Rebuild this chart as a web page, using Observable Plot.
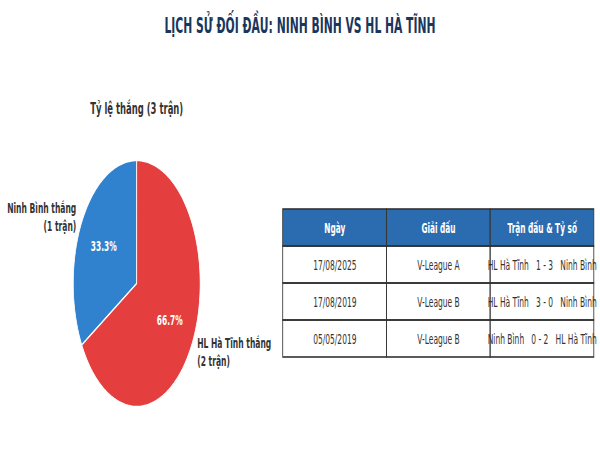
<!DOCTYPE html>
<html><head><meta charset="utf-8">
<script src="https://cdn.jsdelivr.net/npm/d3@7"></script>
<script src="https://cdn.jsdelivr.net/npm/@observablehq/plot@0.6"></script>
<style>
html,body{margin:0;padding:0;background:#fff;overflow:hidden;width:600px;height:450px;}
#stage{position:absolute;left:0;top:0;width:1163px;height:450px;transform:scaleX(0.5159);transform-origin:0 0;font-family:"DejaVu Sans",sans-serif;}
#title{position:absolute;left:0;top:15.5px;width:1163px;text-align:center;font-size:20.9px;line-height:20.9px;font-weight:bold;color:#1A365D;white-space:nowrap;}
.layer{position:absolute;left:0;top:0;}
</style></head><body>
<div id="stage"><div id="title"></div></div>
<script>
// ---- data ----
const chartTitle = "LỊCH SỬ ĐỐI ĐẦU: NINH BÌNH VS HL HÀ TĨNH";
const pieTitle = "Tỷ lệ thắng (3 trận)";
const teams = ["Ninh Bình", "HL Hà Tĩnh"];
const wins = [1, 2];
const sliceLabels = ["Ninh Bình thắng\n(1 trận)", "HL Hà Tĩnh thắng\n(2 trận)"];
const tableHeaders = ["Ngày", "Giải đấu", "Trận đấu & Tỷ số"];
const matchDates = ["17/08/2025", "17/08/2019", "05/05/2019"];
const competitions = ["V-League A", "V-League B", "V-League B"];
const homeTeams = ["HL Hà Tĩnh", "HL Hà Tĩnh", "Ninh Bình"];
const scores = ["1 - 3", "3 - 0", "0 - 2"];
const awayTeams = ["Ninh Bình", "Ninh Bình", "HL Hà Tĩnh"];

// ---- styles / layout (virtual coords, squeezed horizontally by the stage) ----
const sliceColors = ["#3182CE", "#E53E3E"];
const headerColor = "#2B6CB0";
const VW = 1163, H = 450;
const pieCX = 264.5, pieCY = 283, pieR = 123;

document.getElementById("title").textContent = chartTitle;
const stage = document.getElementById("stage");

// ---- pie ----
const total = d3.sum(wins);
const arcs = d3.pie().sort(null).startAngle(0).endAngle(-2 * Math.PI)(wins);
const piePts = [];
arcs.forEach((a, i) => {
  const n = 120;
  piePts.push({team: teams[i], x: 0, y: 0});
  for (let k = 0; k <= n; k++) {
    const t = a.startAngle + (a.endAngle - a.startAngle) * k / n;
    piePts.push({team: teams[i], x: Math.sin(t), y: Math.cos(t)});
  }
  piePts.push({team: teams[i], x: 0, y: 0});
});
const labelData = arcs.map((a, i) => {
  const m = (a.startAngle + a.endAngle) / 2;
  return {
    label: sliceLabels[i],
    pct: (wins[i] / total * 100).toFixed(1) + "%",
    lx: 1.1 * Math.sin(m), ly: 1.1 * Math.cos(m),
    px: 0.6 * Math.sin(m), py: 0.6 * Math.cos(m)
  };
});

const pie = Plot.plot({
  width: VW, height: H, margin: 0,
  style: {fontFamily: "DejaVu Sans", background: "transparent", overflow: "visible"},
  x: {domain: [-pieCX / pieR, (VW - pieCX) / pieR], range: [0, VW], axis: null},
  y: {domain: [(pieCY - H) / pieR, pieCY / pieR], range: [H, 0], axis: null},
  color: {domain: teams, range: sliceColors},
  marks: [
    Plot.line(piePts, {x: "x", y: "y", z: "team", fill: "team", stroke: "white", strokeWidth: 1.5, curve: "linear"}),
    Plot.text(labelData, {x: "px", y: "py", text: "pct", fill: "white", fontWeight: "bold", fontSize: 14.5}),
    Plot.text(labelData.filter(d => d.lx < 0), {x: "lx", y: "ly", text: "label", textAnchor: "end", lineHeight: 1.22, fill: "#333", fontWeight: "bold", fontSize: 14.7}),
    Plot.text(labelData.filter(d => d.lx >= 0), {x: "lx", y: "ly", text: "label", textAnchor: "start", lineHeight: 1.22, fill: "#333", fontWeight: "bold", fontSize: 14.7}),
    Plot.text([pieTitle], {x: () => 0, y: () => (pieCY - 108) / pieR, text: d => d, fill: "#333", fontWeight: "bold", fontSize: 16.4})
  ]
});
pie.classList.add("layer");
stage.appendChild(pie);

// ---- table ----
const rowKeys = ["h", "0", "1", "2"];
const headerCells = tableHeaders.map(h => ({col: h, row: "h", text: h, fill: headerColor}));
const bodyCells = [];
matchDates.forEach((d, i) => {
  const match = homeTeams[i] + "\u00a0\u00a0\u00a0" + scores[i] + "\u00a0\u00a0\u00a0" + awayTeams[i];
  [d, competitions[i], match].forEach((t, j) => bodyCells.push({col: tableHeaders[j], row: String(i), text: t, fill: "white"}));
});
const allCells = headerCells.concat(bodyCells);

const table = Plot.plot({
  width: VW, height: H,
  marginLeft: 548.4, marginRight: 11.6, marginTop: 209, marginBottom: 93,
  style: {fontFamily: "DejaVu Sans", background: "transparent", overflow: "visible"},
  x: {domain: tableHeaders, padding: 0, axis: null},
  y: {domain: rowKeys, padding: 0, axis: null},
  color: {type: "identity"},
  marks: [
    Plot.cell(allCells, {x: "col", y: "row", fill: "fill", inset: 0}),
    Plot.text(headerCells, {x: "col", y: "row", text: "text", fill: "white", fontWeight: "bold", fontSize: 14.3}),
    Plot.text(bodyCells, {x: "col", y: "row", text: "text", fill: "#333", fontSize: 14.6}),
    Plot.cell(allCells, {x: "col", y: "row", fill: "none", stroke: "#333", strokeWidth: 1.6, inset: 0})
  ]
});
table.classList.add("layer");
stage.appendChild(table);
</script>
</body></html>
